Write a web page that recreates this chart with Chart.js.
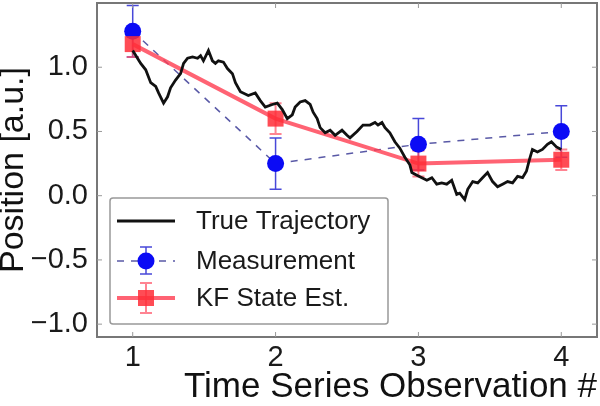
<!DOCTYPE html>
<html lang="en">

<head>
    <meta charset="UTF-8">
    <title>Kalman Filter Position Estimate</title>
    <script src="https://cdn.jsdelivr.net/npm/chart.js"></script>
    <style>
        body { margin: 0; background: #fff; }
        #wrap { width: 600px; height: 406px; }
    </style>
</head>

<body>
    <div id="wrap"><canvas id="kfChart" width="600" height="406"></canvas></div>

    <script>
        // observations
        const obsX = [1, 2, 3, 4];
        const measY = [1.28, 0.25, 0.40, 0.50];
        const measErr = [0.20, 0.20, 0.20, 0.20];
        const kfY = [1.18, 0.60, 0.25, 0.28];
        const kfErr = [0.10, 0.12, 0.10, 0.08];

        // true trajectory
        const trajT = [1.000, 1.056, 1.091, 1.126, 1.161, 1.181, 1.216, 1.244, 1.265, 1.300,
            1.335, 1.356, 1.384, 1.419, 1.454, 1.475, 1.495, 1.530, 1.558, 1.579,
            1.600, 1.635, 1.663, 1.698, 1.719, 1.754, 1.809, 1.858, 1.893, 1.928,
            1.977, 2.012, 2.047, 2.082, 2.117, 2.137, 2.172, 2.207, 2.242, 2.263,
            2.291, 2.312, 2.347, 2.382, 2.417, 2.465, 2.500, 2.521, 2.570, 2.612,
            2.661, 2.696, 2.717, 2.745, 2.766, 2.800, 2.835, 2.870, 2.905, 2.940,
            2.954, 2.989, 3.024, 3.059, 3.094, 3.128, 3.163, 3.198, 3.233, 3.268,
            3.289, 3.324, 3.345, 3.380, 3.415, 3.449, 3.484, 3.519, 3.554, 3.589,
            3.624, 3.659, 3.694, 3.729, 3.756, 3.777, 3.798, 3.833, 3.868, 3.903,
            3.931, 3.966, 4.000];
        const trajY = [1.13, 1.03, 0.98, 0.88, 0.85, 0.80, 0.72, 0.77, 0.84, 0.90,
            0.95, 1.03, 1.07, 1.08, 1.07, 1.09, 1.05, 1.13, 1.05, 1.03,
            1.05, 1.04, 0.99, 0.95, 0.88, 0.81, 0.78, 0.80, 0.74, 0.69,
            0.71, 0.72, 0.67, 0.60, 0.63, 0.69, 0.73, 0.74, 0.71, 0.65,
            0.60, 0.53, 0.49, 0.51, 0.47, 0.51, 0.47, 0.45, 0.50, 0.55,
            0.55, 0.57, 0.55, 0.57, 0.53, 0.49, 0.42, 0.37, 0.30, 0.24,
            0.18, 0.16, 0.14, 0.12, 0.14, 0.09, 0.10, 0.09, 0.12, 0.01,
            0.02, -0.03, 0.05, 0.11, 0.10, 0.14, 0.18, 0.11, 0.07, 0.09,
            0.11, 0.10, 0.15, 0.14, 0.19, 0.28, 0.36, 0.34, 0.36, 0.40,
            0.42, 0.38, 0.36];

        const xTicks = [1, 2, 3, 4];
        const yTicks = [-1.0, -0.5, 0.0, 0.5, 1.0];
        const yTickLabels = ['\u22121.0', '\u22120.5', '0.0', '0.5', '1.0'];
        const legendLabels = ['True Trajectory', 'Measurement', 'KF State Est.'];

        const FONT = '"Liberation Sans", Arial, sans-serif';
        const measColor = '#0b0bf5';
        const measLine = 'rgba(60,60,150,0.85)';
        const measBar = 'rgba(40,40,210,0.85)';
        const kfColor = 'rgba(255,45,55,0.85)';
        const kfLine = 'rgba(255,60,80,0.8)';
        const kfBar = 'rgba(255,80,100,0.7)';

        const pts = (xs, ys) => xs.map((v, i) => ({ x: v, y: ys[i] }));

        function errorBar(ctx, px, pTop, pBot, color, w, cap) {
            ctx.strokeStyle = color;
            ctx.lineWidth = w;
            ctx.beginPath();
            ctx.moveTo(px, pTop); ctx.lineTo(px, pBot);
            ctx.moveTo(px - cap, pTop); ctx.lineTo(px + cap, pTop);
            ctx.moveTo(px - cap, pBot); ctx.lineTo(px + cap, pBot);
            ctx.stroke();
        }

        // error bars, frame with inward ticks, and the boxed legend
        const extras = {
            id: 'extras',
            beforeDatasetsDraw(chart) {
                const { ctx, scales: { x, y } } = chart;
                ctx.save();
                obsX.forEach((v, i) => {
                    errorBar(ctx, x.getPixelForValue(v), y.getPixelForValue(measY[i] + measErr[i]),
                        y.getPixelForValue(measY[i] - measErr[i]), measBar, 1.5, 6);
                    errorBar(ctx, x.getPixelForValue(v), y.getPixelForValue(kfY[i] + kfErr[i]),
                        y.getPixelForValue(kfY[i] - kfErr[i]), kfBar, 2, 6);
                });
                ctx.restore();
            },
            afterDatasetsDraw(chart) {
                const { ctx, chartArea: a, scales: { x, y } } = chart;
                ctx.save();
                ctx.strokeStyle = '#777';
                ctx.lineWidth = 2;
                ctx.strokeRect(a.left, a.top, a.right - a.left, a.bottom - a.top);
                ctx.lineWidth = 1;
                ctx.strokeStyle = '#999';
                ctx.beginPath();
                xTicks.forEach(v => {
                    const px = x.getPixelForValue(v);
                    ctx.moveTo(px, a.bottom); ctx.lineTo(px, a.bottom - 5);
                    ctx.moveTo(px, a.top); ctx.lineTo(px, a.top + 5);
                });
                yTicks.forEach(v => {
                    const py = y.getPixelForValue(v);
                    ctx.moveTo(a.left, py); ctx.lineTo(a.left + 5, py);
                    ctx.moveTo(a.right, py); ctx.lineTo(a.right - 5, py);
                });
                ctx.stroke();
                ctx.restore();
            },
            afterDraw(chart) {
                const { ctx } = chart;
                ctx.save();
                // legend box
                ctx.beginPath();
                ctx.roundRect(110, 198, 278, 126, 3);
                ctx.fillStyle = '#fff';
                ctx.fill();
                ctx.strokeStyle = '#999';
                ctx.lineWidth = 1.5;
                ctx.stroke();

                const rows = [221, 261, 298];
                const x0 = 117, x1 = 175, mx = 146;
                // true trajectory
                ctx.strokeStyle = '#111';
                ctx.lineWidth = 3;
                ctx.beginPath(); ctx.moveTo(x0, rows[0]); ctx.lineTo(x1, rows[0]); ctx.stroke();
                // measurement
                ctx.strokeStyle = measLine;
                ctx.lineWidth = 1.5;
                ctx.setLineDash([7, 7]);
                ctx.beginPath(); ctx.moveTo(x0, rows[1]); ctx.lineTo(x1, rows[1]); ctx.stroke();
                ctx.setLineDash([]);
                errorBar(ctx, mx, rows[1] - 14, rows[1] + 13, measBar, 1.5, 6);
                ctx.fillStyle = measColor;
                ctx.beginPath(); ctx.arc(mx, rows[1], 8.5, 0, Math.PI * 2); ctx.fill();
                // KF estimate
                ctx.strokeStyle = kfLine;
                ctx.lineWidth = 4;
                ctx.beginPath(); ctx.moveTo(x0, rows[2]); ctx.lineTo(x1, rows[2]); ctx.stroke();
                errorBar(ctx, mx, rows[2] - 15, rows[2] + 15, kfBar, 2, 6);
                ctx.fillStyle = kfColor;
                ctx.fillRect(mx - 8, rows[2] - 8, 16, 16);

                ctx.fillStyle = '#1a1a1a';
                ctx.font = '26px ' + FONT;
                ctx.textBaseline = 'middle';
                legendLabels.forEach((t, i) => ctx.fillText(t, 196, rows[i] + 1));
                ctx.restore();
            }
        };

        const ctx = document.getElementById('kfChart').getContext('2d');
        const myChart = new Chart(ctx, {
            type: 'scatter',
            data: {
                datasets: [{
                    label: legendLabels[0],
                    data: pts(trajT, trajY),
                    showLine: true,
                    borderColor: '#111',
                    borderWidth: 2.8,
                    pointRadius: 0,
                    order: 0
                }, {
                    label: legendLabels[2],
                    data: pts(obsX, kfY),
                    showLine: true,
                    borderColor: kfLine,
                    borderWidth: 4,
                    pointStyle: 'rect',
                    pointRadius: 11.3,
                    pointBackgroundColor: kfColor,
                    pointBorderWidth: 0,
                    order: 1
                }, {
                    label: legendLabels[1],
                    data: pts(obsX, measY),
                    showLine: true,
                    borderColor: measLine,
                    borderWidth: 1.5,
                    borderDash: [7, 7],
                    pointStyle: 'circle',
                    pointRadius: 8.5,
                    pointBackgroundColor: measColor,
                    pointBorderWidth: 0,
                    order: 2
                }]
            },
            options: {
                responsive: false,
                animation: false,
                layout: { autoPadding: false, padding: { top: 3, right: 3, left: 0, bottom: 0 } },
                scales: {
                    x: {
                        type: 'linear',
                        min: 0.75,
                        max: 4.25,
                        afterBuildTicks: axis => { axis.ticks = xTicks.map(v => ({ value: v })); },
                        afterFit: axis => {
                            axis.height = 69;
                            axis.paddingLeft = 0;
                            axis.paddingRight = 0;
                        },
                        grid: { display: false, drawTicks: false },
                        border: { display: false },
                        ticks: {
                            padding: 4,
                            color: '#1a1a1a',
                            font: { family: FONT, size: 29 },
                            maxRotation: 0,
                            callback: v => String(v)
                        },
                        title: {
                            display: true,
                            text: 'Time Series Observation #',
                            align: 'end',
                            color: '#111',
                            font: { family: FONT, size: 35 },
                            padding: { top: 0, bottom: -2 }
                        }
                    },
                    y: {
                        min: -1.1,
                        max: 1.5,
                        afterBuildTicks: axis => { axis.ticks = yTicks.map(v => ({ value: v })); },
                        afterFit: axis => {
                            axis.width = 97;
                            axis.paddingTop = 0;
                            axis.paddingBottom = 0;
                        },
                        grid: { display: false, drawTicks: false },
                        border: { display: false },
                        ticks: {
                            padding: 9,
                            color: '#1a1a1a',
                            font: { family: FONT, size: 29 },
                            callback: v => yTickLabels[yTicks.indexOf(v)]
                        },
                        title: {
                            display: true,
                            text: 'Position [a.u.]',
                            color: '#111',
                            font: { family: FONT, size: 34, lineHeight: 0.8 },
                            padding: 0
                        }
                    }
                },
                plugins: {
                    legend: { display: false },
                    tooltip: { enabled: false }
                }
            },
            plugins: [extras]
        });
    </script>
</body>

</html>
